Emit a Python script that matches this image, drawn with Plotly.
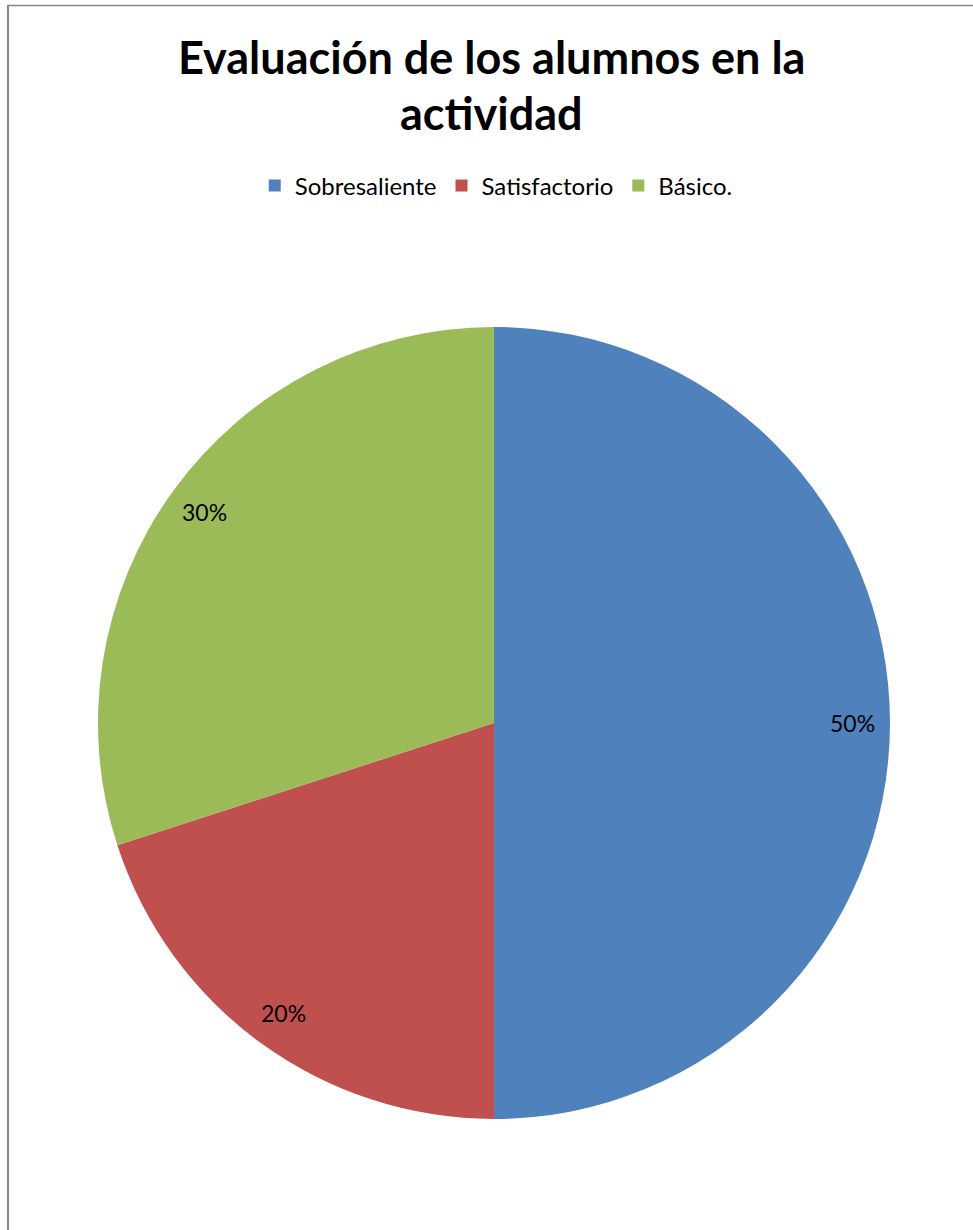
import math
import plotly.graph_objects as go

# Chart data
categories = ["Sobresaliente", "Satisfactorio", "Básico."]
percentages = [50, 20, 30]
slice_colors = ["#4F81BD", "#C0504D", "#9BBB59"]

W, H = 973, 1230
cx, cy, R = 494, 723, 396  # pie centre and radius in pixels

dom_x = [(cx - R) / W, (cx + R) / W]
dom_y = [1 - (cy + R) / H, 1 - (cy - R) / H]

fig = go.Figure(
    go.Pie(
        labels=categories,
        values=percentages,
        sort=False,
        direction="clockwise",
        rotation=0,
        marker=dict(colors=slice_colors, line=dict(width=0)),
        textinfo="none",
        hoverinfo="label+percent",
        domain=dict(x=dom_x, y=dom_y),
    )
)

# Percentage labels placed near the rim at each slice's mid-angle
total = sum(percentages)
start = 0.0
annotations = []
for v in percentages:
    frac = v / total
    mid = (start + frac / 2) * 2 * math.pi
    start += frac
    px = cx + 0.905 * R * math.sin(mid)
    py = cy - 0.905 * R * math.cos(mid)
    annotations.append(
        dict(
            x=px / W, y=1 - py / H, xref="paper", yref="paper",
            text=f"{round(frac * 100)}%", showarrow=False,
            font=dict(family="Lato", size=23, color="#000000"),
            xanchor="center", yanchor="middle",
        )
    )

# Title, two lines
annotations.append(dict(
    x=0.505, y=1 - 57 / H, xref="paper", yref="paper",
    text="<b>Evaluación de los alumnos en la</b>", showarrow=False,
    font=dict(family="Lato", size=45, color="#000000"),
    xanchor="center", yanchor="middle",
))
annotations.append(dict(
    x=0.505, y=1 - 113 / H, xref="paper", yref="paper",
    text="<b>actividad</b>", showarrow=False,
    font=dict(family="Lato", size=45, color="#000000"),
    xanchor="center", yanchor="middle",
))

fig.update_layout(
    width=W, height=H,
    margin=dict(l=0, r=0, t=0, b=0),
    paper_bgcolor="#FFFFFF",
    plot_bgcolor="#FFFFFF",
    showlegend=True,
    legend=dict(
        orientation="h", x=0.51, xanchor="center",
        y=1 - 186 / H, yanchor="middle",
        font=dict(family="Lato", size=24, color="#000000"),
        itemclick=False, itemdoubleclick=False,
    ),
    annotations=annotations,
    shapes=[
        dict(type="line", xref="paper", yref="paper",
             x0=7.5 / W, x1=1.05, y0=1 - 5.5 / H, y1=1 - 5.5 / H,
             line=dict(color="#868686", width=1.5)),
        dict(type="line", xref="paper", yref="paper",
             x0=8 / W, x1=8 / W, y0=-0.05, y1=1 - 5 / H,
             line=dict(color="#868686", width=2)),
    ],
)

fig.write_html("out.html")
